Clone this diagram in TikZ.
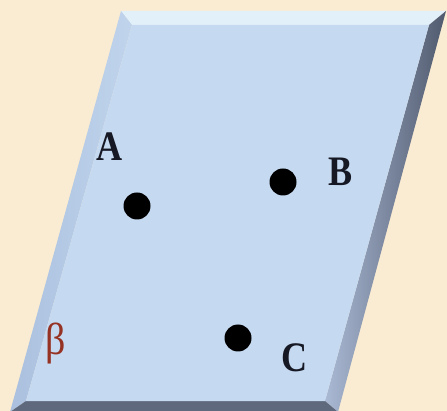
\documentclass[tikz,border=0pt]{standalone}
\usepackage{fontspec}
\setmainfont{Liberation Serif}
\begin{document}
\begin{tikzpicture}[x=1pt,y=-1pt,
  dot/.style={circle,fill=black,inner sep=0pt,minimum size=27pt},
  lab/.style={font=\fontsize{42}{42}\selectfont\bfseries,inner sep=0pt,anchor=base,xscale=0.86,text=labink},
  glab/.style={font=\fontsize{40}{40}\selectfont,inner sep=0pt,anchor=base,text=bgred,yscale=1.12}]
\definecolor{parch}{RGB}{250,236,210}
\definecolor{face}{RGB}{197,217,240}
\definecolor{topbev}{RGB}{226,240,250}
\definecolor{leftbevA}{RGB}{170,192,222}
\definecolor{leftbevB}{RGB}{192,212,236}
\definecolor{rightbevA}{RGB}{170,185,212}
\definecolor{rightbevB}{RGB}{80,90,110}
\definecolor{botbev}{RGB}{95,105,125}
\definecolor{bgred}{RGB}{150,50,35}
\definecolor{labink}{RGB}{22,24,36}
\useasboundingbox (0,0) rectangle (447,411);
\fill[parch] (0,0) rectangle (447,411);
% outer corners
\coordinate (o1) at (121,11);
\coordinate (o2) at (446,11);
\coordinate (o3) at (338,412);
\coordinate (o4) at (10,412);
% inner corners
\coordinate (i1) at (132,25);
\coordinate (i2) at (429,25);
\coordinate (i3) at (325,401);
\coordinate (i4) at (26,401);
% bevels
\fill[topbev] (o1) -- (o2) -- (i2) -- (i1) -- cycle;
\shade[left color=leftbevA,right color=leftbevB] (o1) -- (i1) -- (i4) -- (o4) -- cycle;
\shade[left color=rightbevA,right color=rightbevB] (o2) -- (o3) -- (i3) -- (i2) -- cycle;
\fill[botbev] (i4) -- (i3) -- (o3) -- (o4) -- cycle;
\fill[face] (i1) -- (i2) -- (i3) -- (i4) -- cycle;
% points
\node[dot] (ptA) at (137,206) {};
\node[dot] (ptB) at (283,182) {};
\node[dot] (ptC) at (238,338) {};
\node[lab] (lA) at (110,161) {A};
\node[lab] (lB) at (341,186) {B};
\node[lab] (lC) at (295,371) {C};
\node[glab] (lbeta) at (56,355) {β};
\end{tikzpicture}
\end{document}
